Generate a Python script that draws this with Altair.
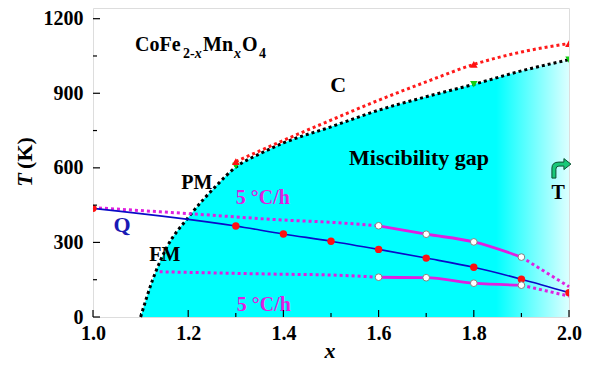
import altair as alt
import pandas as pd

# ---------------- data ----------------
# miscibility-gap boundary (black dotted)
gap_x = [1.10, 1.125, 1.155, 1.20, 1.26, 1.30, 1.35, 1.40, 1.50, 1.60, 1.70, 1.80, 1.90, 2.00]
gap_T = [0, 148, 280, 400, 530, 603, 656, 700, 765, 832, 886, 936, 990, 1035]
# C curve (red dotted)
c_x = [1.30, 1.35, 1.414, 1.50, 1.60, 1.70, 1.80, 1.90, 2.00]
c_T = [625, 668, 722, 792, 872, 946, 1016, 1066, 1100]
# markers on the curves
red_tri_x = [1.30, 1.80, 2.00]
red_tri_T = [625, 1016, 1100]
green_x = [1.30, 1.80, 2.00]
green_T = [608, 936, 1035]
# Q (quenched) data
q_x = [1.0, 1.3, 1.4, 1.5, 1.6, 1.7, 1.8, 1.9, 2.0]
q_T = [437, 366, 334, 305, 272, 237, 200, 152, 98]
# 5 C/h upper branch
up_dot1_x = [1.0, 1.2, 1.4, 1.5, 1.6]
up_dot1_T = [440, 416, 390, 381, 367]
up_x = [1.6, 1.7, 1.8, 1.9]
up_T = [367, 333, 302, 241]
up_dot2_x = [1.9, 2.0]
up_dot2_T = [241, 122]
# 5 C/h lower branch
lo_dot1_x = [1.14, 1.4, 1.5, 1.6]
lo_dot1_T = [182, 172, 169, 160]
lo_x = [1.6, 1.7, 1.8, 1.9]
lo_T = [160, 158, 136, 128]
lo_dot2_x = [1.9, 2.0]
lo_dot2_T = [128, 84]
# ticks
x_major = [1.0, 1.2, 1.4, 1.6, 1.8, 2.0]
x_minor = [1.1, 1.3, 1.5, 1.7, 1.9]
y_major = [0, 300, 600, 900, 1200]
y_minor = [150, 450, 750, 1050]
# annotations
ann_text = ["C", "Miscibility gap", "PM", "5 \u00b0C/h", "Q", "FM", "5 \u00b0C/h", "T"]
ann_x = [1.515, 1.685, 1.218, 1.357, 1.061, 1.151, 1.359, 1.977]
ann_T = [933, 640, 539, 479, 370, 249, 48, 499]
ann_color = ["black", "black", "black", "#e020e0", "#1a1ab4", "black", "#e020e0", "black"]
ann_size = [22, 22, 20, 20, 22, 20, 20, 20]
# formula pieces CoFe_{2-x}Mn_{x}O_{4}
f_text = ["CoFe", "2-", "x", "Mn", "x", "O", "4"]
f_x = [1.0882, 1.1891, 1.2137, 1.2311, 1.2962, 1.3130, 1.3487]
f_T = [1070, 1042, 1042, 1070, 1042, 1070, 1042]
f_size = [20, 14, 14, 20, 14, 20, 14]
f_style = ["normal", "normal", "italic", "normal", "italic", "normal", "normal"]

W, H = 476, 309
FONT = "'Liberation Serif', 'Times New Roman', serif"

xs = alt.Scale(domain=[1.0, 2.0], nice=False, zero=False)
ys = alt.Scale(domain=[0, 1243], nice=False, zero=False)
xaxis = alt.Axis(values=x_major, format=".1f", title=None, ticks=False, domain=False, grid=False,
                 labelFont=FONT, labelFontSize=20, labelFontWeight="bold", labelColor="black",
                 labelPadding=6, labelOverlap=False, labelFlush=False)
yaxis = alt.Axis(values=y_major, format="d", title=None, ticks=False, domain=False, grid=False,
                 labelFont=FONT, labelFontSize=20, labelFontWeight="bold", labelColor="black",
                 labelPadding=10, labelOverlap=False, labelFlush=False)


def X(f="x"):
    return alt.X(f"{f}:Q", scale=xs, axis=xaxis)


def Y(f="T"):
    return alt.Y(f"{f}:Q", scale=ys, axis=yaxis)


def df(xv, tv):
    return pd.DataFrame({"x": xv, "T": tv})


grad = alt.Gradient(gradient="linear", x1=0, x2=1, y1=0, y2=0,
                    stops=[alt.GradientStop(color="#00ffff", offset=0),
                           alt.GradientStop(color="#00ffff", offset=0.83),
                           alt.GradientStop(color="#dcffff", offset=1)])

area = alt.Chart(df(gap_x, gap_T)).mark_area(color=grad, interpolate="monotone").encode(
    x=X(), y=Y(), y2=alt.value(H))

gap_line = alt.Chart(df(gap_x, gap_T)).mark_line(
    color="black", strokeWidth=3, strokeDash=[3, 3], interpolate="monotone").encode(x=X(), y=Y())
c_line = alt.Chart(df(c_x, c_T)).mark_line(
    color="#ff1a1a", strokeWidth=3, strokeDash=[3, 3], interpolate="monotone").encode(x=X(), y=Y())

MAG = "#e020e0"


def mag_dot(xv, tv):
    return alt.Chart(df(xv, tv)).mark_line(color=MAG, strokeWidth=3, strokeDash=[3, 3],
                                           interpolate="monotone").encode(x=X(), y=Y())


def mag_solid(xv, tv):
    return alt.Chart(df(xv, tv)).mark_line(color=MAG, strokeWidth=2.8,
                                           interpolate="monotone").encode(x=X(), y=Y())


q_line = alt.Chart(df(q_x, q_T)).mark_line(color="#0a0ac8", strokeWidth=1.6,
                                           interpolate="monotone").encode(x=X(), y=Y())
q_pts = alt.Chart(df(q_x, q_T)).mark_point(filled=True, color="#ff1010", size=55, opacity=1,
                                           clip=True).encode(x=X(), y=Y())
open_pts = alt.Chart(df(up_x + lo_x, up_T + lo_T)).mark_point(
    filled=True, fill="white", stroke="#808080", strokeWidth=1, size=45, opacity=1).encode(x=X(), y=Y())
green_pts = alt.Chart(df(green_x, green_T)).mark_point(
    filled=True, color="#10d010", shape="triangle-down", size=55, opacity=1, clip=True).encode(x=X(), y=Y())
red_tri = alt.Chart(df(red_tri_x, red_tri_T)).mark_point(
    filled=True, color="#ff1010", shape="triangle-up", size=60, opacity=1, clip=True).encode(x=X(), y=Y())

arrow_path = ("M -0.9 1 L -0.9 0 Q -0.9 -0.6 -0.2 -0.6 L 0.3 -0.6 L 0.3 -0.95 L 1 -0.4 "
              "L 0.3 0.15 L 0.3 -0.2 L -0.2 -0.2 Q -0.5 -0.2 -0.5 0.1 L -0.5 1 Z")
arrow = alt.Chart(df([1.983], [599])).mark_point(
    shape=arrow_path, filled=True, fill="#18c878", stroke="#0a5030", strokeWidth=1,
    size=400, opacity=1).encode(x=X(), y=Y())

ann = alt.Chart(pd.DataFrame({"x": ann_x, "T": ann_T, "t": ann_text, "c": ann_color, "s": ann_size})
                ).mark_text(font=FONT, fontWeight="bold", align="center", baseline="middle").encode(
    x=X(), y=Y(), text="t:N", color=alt.Color("c:N", scale=None), size=alt.Size("s:Q", scale=None))

fdf = pd.DataFrame({"x": f_x, "T": f_T, "t": f_text, "s": f_size, "st": f_style})
formula_n = alt.Chart(fdf[fdf.st == "normal"]).mark_text(
    font=FONT, fontWeight="bold", align="left", baseline="alphabetic", color="black").encode(
    x=X(), y=Y(), text="t:N", size=alt.Size("s:Q", scale=None))
formula_i = alt.Chart(fdf[fdf.st == "italic"]).mark_text(
    font=FONT, fontWeight="bold", fontStyle="italic", align="left", baseline="alphabetic",
    color="black").encode(x=X(), y=Y(), text="t:N", size=alt.Size("s:Q", scale=None))

xt_major = alt.Chart(pd.DataFrame({"x": x_major})).mark_rule(color="black", strokeWidth=1.2).encode(
    x=X(), y=alt.value(H), y2=alt.value(H - 7))
xt_minor = alt.Chart(pd.DataFrame({"x": x_minor})).mark_rule(color="black", strokeWidth=1.2).encode(
    x=X(), y=alt.value(H), y2=alt.value(H - 4))
yt_major = alt.Chart(pd.DataFrame({"T": y_major})).mark_rule(color="black", strokeWidth=1.2).encode(
    y=Y(), x=alt.value(0), x2=alt.value(7))
yt_minor = alt.Chart(pd.DataFrame({"T": y_minor})).mark_rule(color="black", strokeWidth=1.2).encode(
    y=Y(), x=alt.value(0), x2=alt.value(4))

ytitle_T = alt.Chart(pd.DataFrame({"a": [0]})).mark_text(
    text="T", font=FONT, fontWeight="bold", fontStyle="italic", fontSize=22, angle=270,
    align="center", baseline="middle", color="black").encode(x=alt.value(-68), y=alt.value(172))
ytitle_K = alt.Chart(pd.DataFrame({"a": [0]})).mark_text(
    text="(K)", font=FONT, fontWeight="bold", fontSize=22, angle=270,
    align="center", baseline="middle", color="black").encode(x=alt.value(-68), y=alt.value(145))
xtitle = alt.Chart(pd.DataFrame({"a": [0]})).mark_text(
    text="x", font=FONT, fontWeight="bold", fontStyle="italic", fontSize=22,
    align="center", baseline="bottom", color="black").encode(x=alt.value(237), y=alt.value(355))

chart = alt.layer(
    area, gap_line, c_line,
    mag_dot(up_dot1_x, up_dot1_T), mag_solid(up_x, up_T), mag_dot(up_dot2_x, up_dot2_T),
    mag_dot(lo_dot1_x, lo_dot1_T), mag_solid(lo_x, lo_T), mag_dot(lo_dot2_x, lo_dot2_T),
    q_line, q_pts, open_pts, green_pts, red_tri, arrow,
    ann, formula_n, formula_i,
    xt_major, xt_minor, yt_major, yt_minor,
    ytitle_T, ytitle_K, xtitle,
).properties(
    width=W, height=H,
    autosize=alt.AutoSizeParams(type="none"),
    padding={"left": 85, "top": 0, "right": 16, "bottom": 47},
).configure_view(stroke="black", strokeWidth=1.5).configure(background="white")

chart.save("out.html", embed_options={"renderer": "svg", "actions": False})
